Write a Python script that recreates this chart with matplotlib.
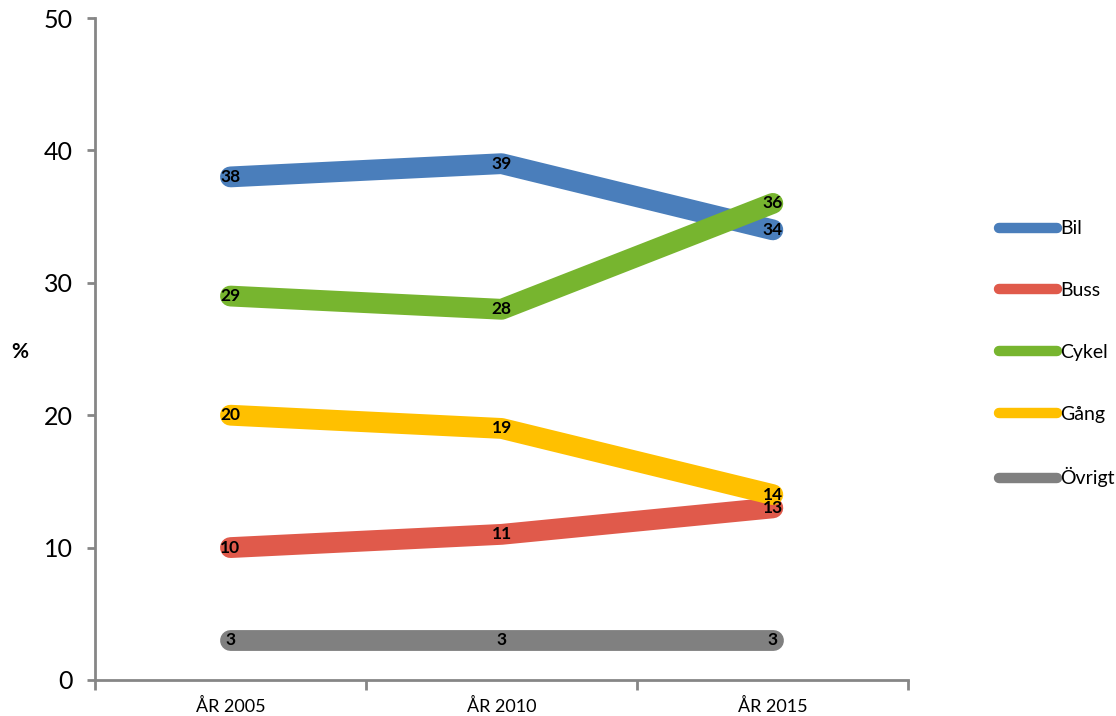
import numpy as np
import matplotlib.pyplot as plt
from matplotlib.lines import Line2D

plt.rcParams['font.family'] = ['Lato', 'DejaVu Sans']

years = ["ÅR 2005", "ÅR 2010", "ÅR 2015"]
series = ["Bil", "Buss", "Cykel", "Gång", "Övrigt"]
bil = [38, 39, 34]
buss = [10, 11, 13]
cykel = [29, 28, 36]
gang = [20, 19, 14]
ovrigt = [3, 3, 3]
colors = ["#4a7ebb", "#e05a4b", "#77b52f", "#ffc000", "#808080"]

values = [bil, buss, cykel, gang, ovrigt]
axis_col = "#868686"

fig = plt.figure(figsize=(11.16, 7.16), dpi=100)
ax = fig.add_axes([0.085, 0.0503, 0.729, 0.9245])

x = np.arange(len(years)) + 0.5
handles = []
for name, vals, col in zip(series, values, colors):
    ax.plot(x, vals, color=col, lw=15, solid_capstyle="round",
            solid_joinstyle="round", zorder=2)
    for xi, v in zip(x, vals):
        ax.text(xi, v, str(v), ha="center", va="center", fontsize=12.5,
                fontweight="bold", color="black", zorder=3)
    handles.append(Line2D([0], [0], color=col, lw=7.5, solid_capstyle="round"))

ax.set_xlim(0, 3)
ax.set_ylim(0, 50)
ax.set_yticks(range(0, 51, 10))
ax.tick_params(axis="y", labelsize=18, colors=axis_col, labelcolor="black",
               length=6, width=2, pad=10)
ax.set_xticks([0, 1, 2, 3])
ax.set_xticklabels([])
ax.set_xticks(x, minor=True)
ax.set_xticklabels(years, minor=True)
ax.tick_params(axis="x", which="major", colors=axis_col, length=7, width=2)
ax.tick_params(axis="x", which="minor", length=0, labelsize=13, pad=13)

for s in ["top", "right"]:
    ax.spines[s].set_visible(False)
for s in ["left", "bottom"]:
    ax.spines[s].set_color(axis_col)
    ax.spines[s].set_linewidth(2)

fig.text(0.018, 0.508, "%", fontsize=15, fontweight="bold", ha="center", va="center")

fig.legend(handles, series, loc="upper left", bbox_to_anchor=(0.888, 0.703),
           frameon=False, fontsize=14, handlelength=3.0, handletextpad=0.15,
           labelspacing=2.3, borderaxespad=0)

fig.savefig("out.png", dpi=100)
